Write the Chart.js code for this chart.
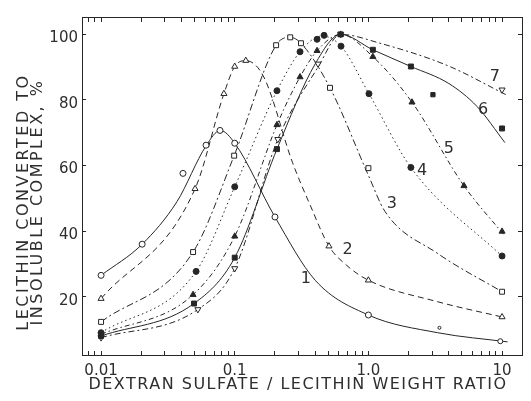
<!DOCTYPE html>
<html><head><meta charset="utf-8">
<script src="https://cdn.jsdelivr.net/npm/chart.js@4.4.1/dist/chart.umd.min.js"></script>
<style>html,body{margin:0;padding:0;background:#fff;}#wrap{width:531px;height:401px;}</style>
</head><body><div id="wrap"><canvas id="c" width="531" height="401"></canvas></div>
<script>
// ---- axis ranges & tick labels ----
const X_MIN = 0.0072, X_MAX = 14.1;
const Y_MIN = 2.2, Y_MAX = 105.3;
const xMajorTicks = [0.01, 0.1, 1, 10];
const xTickLabels = ['0.01', '0.1', '1.0', '10'];
const yTicks = [20, 40, 60, 80, 100];
const yTickLabels = ['20', '40', '60', '80', '100'];
const X_TITLE = 'DEXTRAN SULFATE / LECITHIN WEIGHT RATIO';
const Y_TITLE = ['LECITHIN CONVERTED TO', 'INSOLUBLE COMPLEX, %'];

// ---- series 1 (open circles, solid) ----
const s1x = [0.01, 0.0203, 0.041, 0.061, 0.0776, 0.1, 0.2, 1.0, 3.4, 9.7];
const s1y = [26.5, 36, 57.6, 66.2, 70.7, 66.8, 44.3, 14.4, 10.5, 6.4];
const s1cx = [0.01, 0.0203, 0.037, 0.061, 0.078, 0.1, 0.2, 0.4, 1.0, 3.3, 11];
const s1cy = [26.5, 36, 49, 66, 70.7, 66.8, 44.3, 25, 14.4, 9, 6.2];
// ---- series 2 (open triangles, dashed) ----
const s2x = [0.01, 0.0505, 0.083, 0.1, 0.121, 0.507, 1.0, 10];
const s2y = [19.4, 52.9, 81.9, 90.2, 92, 35.4, 25, 13.8];
const s2cx = [0.01, 0.0505, 0.083, 0.1, 0.121, 0.165, 0.27, 0.366, 0.507, 0.69, 1.0, 3.26, 10.5];
const s2cy = [19.4, 52.9, 81.9, 90.2, 92, 87, 61, 48, 35.4, 29.5, 25, 18.5, 13.6];
// ---- series 3 (open squares, dash-dot) ----
const s3x = [0.01, 0.0488, 0.099, 0.204, 0.26, 0.313, 0.516, 1.0, 10];
const s3y = [12.3, 33.6, 63, 96.7, 99.1, 97.3, 83.7, 59.2, 21.5];
const s3cx = [0.01, 0.0488, 0.099, 0.204, 0.26, 0.313, 0.516, 1.0, 1.33, 3.26, 10.5];
const s3cy = [12.3, 33.6, 63, 96.7, 99.1, 97.3, 83.7, 57, 46, 33.3, 21];
// ---- series 4 (filled circles, dotted) ----
const s4x = [0.01, 0.0514, 0.1, 0.207, 0.308, 0.413, 0.466, 0.624, 1.01, 2.08, 10];
const s4y = [9, 27.7, 53.5, 82.8, 94.7, 98.5, 99.7, 96.4, 81.9, 59.4, 32.4];
const s4cx = [0.01, 0.0514, 0.1, 0.207, 0.308, 0.45, 0.624, 1.01, 2.08, 10.5];
const s4cy = [9, 27.7, 53.5, 82.8, 94.7, 99.5, 96.4, 81.9, 59.4, 31.5];
// ---- series 5 (filled triangles, dash-dot) ----
const s5x = [0.01, 0.0488, 0.1, 0.207, 0.308, 0.413, 0.62, 1.08, 2.12, 5.19, 10];
const s5y = [8.5, 20.6, 38.4, 72.4, 87, 95, 100, 93.2, 79.3, 53.8, 39.9];
const s5cx = [0.01, 0.0488, 0.1, 0.207, 0.308, 0.413, 0.62, 1.08, 2.12, 5.19, 10.5];
const s5cy = [8.5, 20.6, 38.4, 72.4, 87, 95, 100, 93.2, 79.3, 53.8, 38.5];
// ---- series 6 (filled squares, solid) ----
const s6x = [0.01, 0.0496, 0.1, 0.207, 0.62, 1.08, 2.08, 3.04, 10];
const s6y = [8, 17.9, 31.9, 65, 100, 95.3, 90.2, 81.6, 71.3];
const s6cx = [0.01, 0.0496, 0.1, 0.207, 0.4, 0.62, 1.08, 2.08, 4.0, 6.5, 10.5];
const s6cy = [8, 17.9, 31.9, 65, 91, 100, 95.3, 90.2, 85, 78, 67];
// ---- series 7 (open inverted triangles, dashed) ----
const s7x = [0.01, 0.053, 0.1, 0.21, 0.42, 0.62, 10];
const s7y = [7.5, 16.1, 28.6, 68, 91, 100, 83.1];
const s7cx = [0.01, 0.053, 0.1, 0.21, 0.42, 0.62, 1.22, 3.9, 10.7];
const s7cy = [7.5, 16.1, 28.6, 68, 90, 100, 97.3, 90.5, 81.6];
// ---- curve number labels ----
const curveLabels = ['1', '2', '3', '4', '5', '6', '7'];
const labelX = [0.34, 0.70, 1.5, 2.52, 4.0, 7.2, 8.85];
const labelY = [25.5, 34.2, 48.4, 58.5, 65, 76.9, 87];

const INK = '#262626';
const TXT = '#2e2e2e';
const FONT = '"DejaVu Sans", sans-serif';
Chart.defaults.font.family = FONT;

const pts = (xs, ys) => xs.map((x, i) => ({x: x, y: ys[i]}));
function curve(xs, ys, dash) {
  return {data: pts(xs, ys), borderColor: INK, borderWidth: 1, borderDash: dash,
    pointRadius: 0, pointHoverRadius: 0, cubicInterpolationMode: 'monotone', fill: false, order: 2};
}
function marks(xs, ys, style, filled, rot, r) {
  return {data: pts(xs, ys), showLine: false, pointStyle: style, pointRotation: rot,
    pointRadius: r, pointHoverRadius: r, pointBorderWidth: 1, pointBorderColor: INK,
    pointBackgroundColor: filled ? INK : '#ffffff', order: 1};
}

// log tick positions (1..9 x decade) within the axis range
const xTickValues = [];
for (let e = -3; e <= 1; e++) for (let m = 1; m <= 9; m++) {
  const v = m * Math.pow(10, e);
  if (v >= X_MIN && v <= X_MAX) xTickValues.push(v);
}
function xLabel(v) {
  for (let i = 0; i < xMajorTicks.length; i++) if (Math.abs(v - xMajorTicks[i]) / xMajorTicks[i] < 1e-6) return xTickLabels[i];
  return '';
}
function yLabel(v) { const i = yTicks.indexOf(v); return i >= 0 ? yTickLabels[i] : ''; }

const datasets = [
  curve(s1cx, s1cy, []), marks(s1x, s1y, 'circle', false, 0, [3, 3, 3, 3, 3, 3, 3, 3, 1.5, 2.5]),
  curve(s2cx, s2cy, [6, 4]), marks(s2x, s2y, 'triangle', false, 0, 3.5),
  curve(s3cx, s3cy, [7, 3, 2, 3]), marks(s3x, s3y, 'rect', false, 0, 3.5),
  curve(s4cx, s4cy, [1.5, 3]), marks(s4x, s4y, 'circle', true, 0, 3),
  curve(s5cx, s5cy, [5, 3, 1.5, 3]), marks(s5x, s5y, 'triangle', true, 0, 3.5),
  curve(s6cx, s6cy, []), marks(s6x, s6y, 'rect', true, 0, [3.5, 3.5, 3.5, 3.5, 3.5, 3.5, 3.5, 3, 3.5]),
  curve(s7cx, s7cy, [6, 3, 2, 3]), marks(s7x, s7y, 'triangle', false, 180, 3.5)
];

const tickGrid = (len) => ({drawOnChartArea: false, drawTicks: true, tickLength: len, color: INK, tickWidth: 1});
const frame = {display: true, color: INK, width: 1};

const titlePatch = {
  id: 'titlePatch',
  beforeDraw(chart) {
    const cfg = {y: {sp: '2.5px', dx: 0, dy: 16}, x: {sp: '1.5px', dx: -4, dy: 0}};
    Object.keys(cfg).forEach(id => {
      const s = chart.scales[id];
      if (!s || s._tp) return;
      const orig = s.drawTitle, c = cfg[id];
      s.drawTitle = function () {
        const ctx = this.ctx;
        ctx.save();
        ctx.translate(c.dx, c.dy);
        if ('letterSpacing' in ctx) ctx.letterSpacing = c.sp;
        orig.call(this);
        ctx.restore();
      };
      s._tp = true;
    });
  }
};
const curveLabelPlugin = {
  id: 'curveLabels',
  afterDatasetsDraw(chart) {
    const {ctx, scales} = chart;
    ctx.save();
    ctx.font = '16px ' + FONT;
    ctx.fillStyle = TXT;
    ctx.textAlign = 'center';
    ctx.textBaseline = 'middle';
    curveLabels.forEach((t, i) => ctx.fillText(t, scales.x.getPixelForValue(labelX[i]), scales.y.getPixelForValue(labelY[i])));
    ctx.restore();
  }
};

new Chart(document.getElementById('c'), {
  type: 'line',
  data: {datasets: datasets},
  options: {
    responsive: false, animation: false, devicePixelRatio: 1,
    layout: {padding: 0},
    plugins: {legend: {display: false}, tooltip: {enabled: false}},
    scales: {
      x: {type: 'logarithmic', position: 'bottom', min: X_MIN, max: X_MAX,
        afterBuildTicks: s => { s.ticks = xTickValues.map(v => ({value: v})); },
        afterFit: s => { s.height = 46; },
        grid: tickGrid(-4), border: frame,
        ticks: {autoSkip: false, maxRotation: 0, padding: 11, color: TXT, font: {size: 15}, callback: v => xLabel(v)},
        title: {display: true, text: X_TITLE, color: TXT, font: {size: 16}, padding: {top: 0, bottom: 7}}},
      x2: {type: 'logarithmic', position: 'top', min: X_MIN, max: X_MAX,
        afterBuildTicks: s => { s.ticks = xTickValues.map(v => ({value: v})); },
        afterFit: s => { s.height = 7; },
        grid: tickGrid(-5), border: frame,
        ticks: {autoSkip: false, maxRotation: 0, padding: 0, callback: () => ''}},
      y: {type: 'linear', position: 'left', min: Y_MIN, max: Y_MAX,
        afterBuildTicks: s => { s.ticks = yTicks.map(v => ({value: v})); },
        afterFit: s => { s.width = 82; },
        grid: tickGrid(-4), border: frame,
        ticks: {padding: 8, labelOffset: 4, color: TXT, font: {size: 15}, callback: v => yLabel(v)},
        title: {display: true, text: Y_TITLE, color: TXT, font: {size: 16, lineHeight: 0.875}, padding: {top: 17, bottom: 0}}},
      y2: {type: 'linear', position: 'right', min: Y_MIN, max: Y_MAX,
        afterBuildTicks: s => { s.ticks = yTicks.map(v => ({value: v})); },
        afterFit: s => { s.width = 9; },
        grid: tickGrid(-4), border: frame,
        ticks: {padding: 0, callback: () => ''}}
    }
  },
  plugins: [titlePatch, curveLabelPlugin]
});
</script></body></html>
